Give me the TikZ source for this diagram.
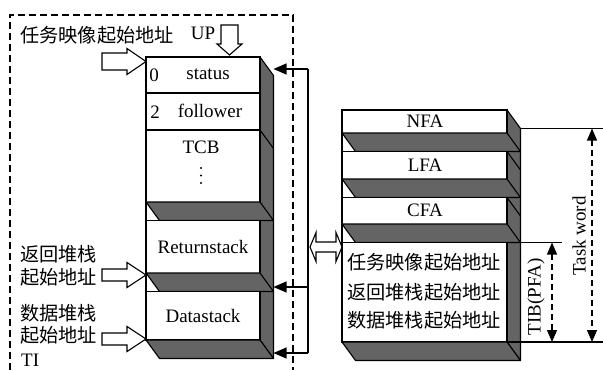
\documentclass[tikz,border=0pt]{standalone}
\usepackage{fontspec}
\setmainfont{Liberation Serif}
\newfontfamily\cjk{Noto Sans CJK SC}
\usetikzlibrary{arrows.meta}
\definecolor{sidegray}{RGB}{100,100,100}

\begin{document}
\begin{tikzpicture}[x=1pt,y=-1pt,
  face/.style={draw=black, fill=white, line width=1.1pt},
  shade/.style={draw=black, fill=sidegray, line width=1.1pt, line join=round},
  edge/.style={draw=black, line width=1.1pt},
  lbl/.style={font=\fontsize{19}{22}\selectfont, inner sep=0pt},
  cjklbl/.style={font=\cjk\fontsize{19.2}{22}\selectfont, inner sep=0pt},
  hollowarrow/.style={draw=black, fill=white, line width=1.1pt, line join=miter},
  bus/.style={line width=1.1pt},
  busarrow/.style={line width=1.1pt, -{Triangle[length=13pt,width=11pt]}},
  dimarrow/.style={line width=1.1pt, dash pattern=on 6pt off 4pt,
    {Triangle[length=12pt,width=10pt]}-{Triangle[length=12pt,width=10pt]}},
  frameline/.style={line width=1.2pt, dash pattern=on 7pt off 4pt}
]
\useasboundingbox (0,0) rectangle (603,370);

% ---------- task image frame ----------
\draw[frameline] (10,370) -- (10,15) -- (293,15) -- (293,370);

% ---------- task control block column ----------
\path[shade] (260,57) -- (273.5,75.5) -- (273.5,358.5) -- (260,340) -- cycle;
\path[face] (146,57) rectangle (260,130);
\draw[edge] (146,93) -- (260,93);
\draw[edge] (260,130) -- (273.5,148.5);
\path[face] (146,130) rectangle (260,220.5);
\path[shade] (146,202) -- (260,202) -- (273.5,220.5) -- (159.5,220.5) -- cycle;
\path[face] (146,220.5) rectangle (260,291.5);
\path[shade] (146,273) -- (260,273) -- (273.5,291.5) -- (159.5,291.5) -- cycle;
\path[face] (146,291.5) rectangle (260,340);
\path[shade] (146,340) -- (260,340) -- (273.5,358.5) -- (159.5,358.5) -- cycle;

\node[lbl] (n0) at (154,75) {0};
\node[lbl] (status) at (208,74) {status};
\node[lbl] (n2) at (155,112) {2};
\node[lbl] (follower) at (210,111) {follower};
\node[lbl] (tcb) at (201,147) {TCB};
\fill (201,168) circle (1.2) (201,175.5) circle (1.2) (201,183) circle (1.2);
\node[lbl] (rstack) at (203,247) {Returnstack};
\node[lbl] (dstack) at (203,316) {Datastack};

% ---------- labels and hollow arrows on the left ----------
\node[cjklbl, anchor=west] (imgaddr) at (20,35) {任务映像起始地址};
\node[lbl] (up) at (203,33) {UP};
\node[cjklbl, anchor=west] (raddr1) at (20,254) {返回堆栈};
\node[cjklbl, anchor=west] (raddr2) at (20,277) {起始地址};
\node[cjklbl, anchor=west] (daddr1) at (20,313) {数据堆栈};
\node[cjklbl, anchor=west] (daddr2) at (20,335) {起始地址};
\node[lbl, anchor=west] (ti) at (21,360) {TI};

\path[hollowarrow] (102,53) -- (127,53) -- (127,48.5) -- (146,61.5)
  -- (127,74.5) -- (127,70) -- (102,70) -- cycle;
\path[hollowarrow] (221,25) -- (238,25) -- (238,44) -- (242,44) -- (229.5,55)
  -- (217,44) -- (221,44) -- cycle;
\path[hollowarrow] (102,269) -- (127,269) -- (127,262.5) -- (146,275)
  -- (127,287.5) -- (127,281) -- (102,281) -- cycle;
\path[hollowarrow] (102,333) -- (127,333) -- (127,326.5) -- (146,339)
  -- (127,351.5) -- (127,345) -- (102,345) -- cycle;

% ---------- pointer bus ----------
\coordinate (busA) at (308,69);
\coordinate (busB) at (308,287);
\coordinate (busC) at (308,353);
\coordinate (tipA) at (273.5,69);
\coordinate (tipB) at (273.5,287);
\coordinate (tipC) at (273.5,353);
\draw[bus] (busA) -- (busC);
\draw[busarrow] (busA) -- (tipA);
\draw[busarrow] (busB) -- (tipB);
\draw[busarrow] (busC) -- (tipC);

\path[hollowarrow] (310,247) -- (316,232.5) -- (316,242) -- (336,242) -- (336,232.5)
  -- (342,247) -- (336,261.5) -- (336,252) -- (316,252) -- (316,261.5) -- cycle;

% ---------- dictionary header column ----------
\path[shade] (507,110) -- (520.5,128.5) -- (520.5,360.5) -- (507,342) -- cycle;
\path[face] (342,110) rectangle (507,151.5);
\path[shade] (342,133) -- (507,133) -- (520.5,151.5) -- (355.5,151.5) -- cycle;
\path[face] (342,151.5) rectangle (507,197.5);
\draw[edge] (507,151.5) -- (520.5,170);
\path[shade] (342,179) -- (507,179) -- (520.5,197.5) -- (355.5,197.5) -- cycle;
\path[face] (342,197.5) rectangle (507,242.5);
\draw[edge] (507,197.5) -- (520.5,216);
\path[shade] (342,224) -- (507,224) -- (520.5,242.5) -- (355.5,242.5) -- cycle;
\path[face] (342,242.5) rectangle (507,342);
\path[shade] (342,342) -- (507,342) -- (520.5,360.5) -- (355.5,360.5) -- cycle;

\node[lbl] (nfa) at (425,121) {NFA};
\node[lbl] (lfa) at (425,165) {LFA};
\node[lbl] (cfa) at (425,210) {CFA};
\node[cjklbl] (tib1) at (424,262) {任务映像起始地址};
\node[cjklbl] (tib2) at (424,292) {返回堆栈起始地址};
\node[cjklbl] (tib3) at (424,320) {数据堆栈起始地址};

% ---------- dimensions ----------
\coordinate (wordTop) at (520.5,128.5);
\coordinate (tibTop) at (520.5,242.5);
\coordinate (wordBot) at (507,342);
\draw[bus] (wordTop) -- (603,128.5);
\draw[bus] (tibTop) -- (562,242.5);
\draw[bus] (wordBot) -- (603,342);
\coordinate (dimA1) at (592,128.5);
\coordinate (dimA2) at (592,342);
\coordinate (dimB1) at (552,242.5);
\coordinate (dimB2) at (552,342);
\draw[dimarrow] (dimA1) -- (dimA2);
\draw[dimarrow] (dimB1) -- (dimB2);
\node[lbl, rotate=90] (taskword) at (579,236) {Task word};
\node[lbl, rotate=90] (tibpfa) at (536,297) {TIB(PFA)};
\end{tikzpicture}
\end{document}
